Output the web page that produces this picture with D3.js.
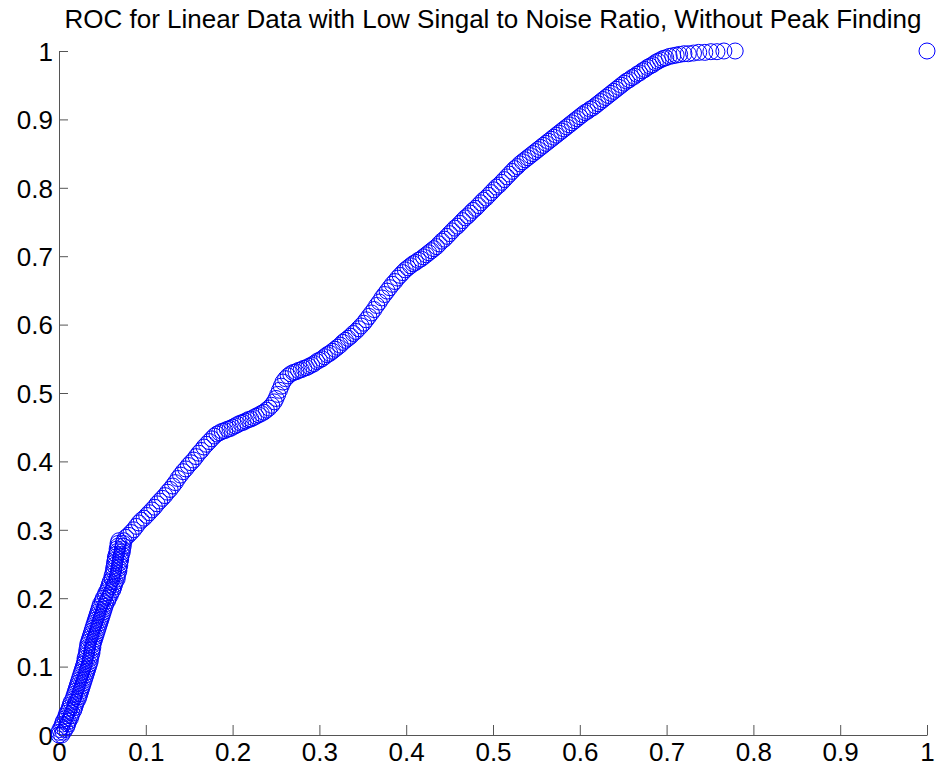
<!DOCTYPE html>
<html>
<head>
<meta charset="utf-8">
<script src="https://cdn.jsdelivr.net/npm/d3@7"></script>
<style>
  html, body { margin: 0; padding: 0; background: #fff; }
  svg { display: block; }
  text { font-family: "Liberation Sans", Arial, sans-serif; fill: #000; }
</style>
</head>
<body>
<svg id="chart" width="937" height="770"></svg>
<script>
const titleText = "ROC for Linear Data with Low Singal to Noise Ratio, Without Peak Finding";
const xTicks = [0, 0.1, 0.2, 0.3, 0.4, 0.5, 0.6, 0.7, 0.8, 0.9, 1];
const yTicks = [0, 0.1, 0.2, 0.3, 0.4, 0.5, 0.6, 0.7, 0.8, 0.9, 1];

// False positive rate (x) values
const fpr = [
  0,0.003, 0,0.005, 0.001,0.007, 0.003,0.009, 0.004,0.010, 0.005,0.011, 0.007,0.013, 0.008,0.014, 0.009,0.015, 0.011,0.017,
  0.012,0.018, 0.013,0.019, 0.014,0.020, 0.016,0.022, 0.017,0.023, 0.018,0.024, 0.019,0.025, 0.020,0.026, 0.021,0.027, 0.022,0.028,
  0.023,0.029, 0.024,0.030, 0.025,0.031, 0.026,0.032, 0.027,0.033, 0.028,0.034, 0.029,0.035, 0.030,0.036, 0.030,0.036, 0.031,0.037,
  0.032,0.038, 0.032,0.038, 0.033,0.039, 0.033,0.039, 0.034,0.040, 0.035,0.041, 0.036,0.042, 0.037,0.043, 0.038,0.044, 0.039,0.045,
  0.040,0.046, 0.041,0.047, 0.042,0.048, 0.043,0.049, 0.044,0.050, 0.045,0.051, 0.046,0.052, 0.047,0.053, 0.048,0.054, 0.050,0.056,
  0.051,0.057, 0.053,0.059, 0.054,0.060, 0.056,0.062, 0.057,0.063, 0.058,0.064, 0.059,0.065, 0.061,0.067, 0.061,0.067, 0.062,0.068,
  0.063,0.069, 0.063,0.069, 0.064,0.070, 0.064,0.070, 0.065,0.071, 0.065,0.071, 0.066,0.072, 0.067,0.073, 0.067,0.073, 0.068,0.074,
  0.068,0.074, 0.069,0.075, 0.077,
  0.080,0.083,0.086,0.089,0.092,0.095,0.098,0.101,0.104,0.107,0.110,0.113,0.116,0.119,0.122,0.125,0.128,0.131,0.134,0.137,
  0.140,0.143,0.146,0.149,0.152,0.155,0.158,0.161,0.164,0.167,0.170,0.173,0.176,0.179,0.182,0.185,0.188,0.191,0.194,0.197,
  0.200,0.203,0.206,0.209,0.212,0.215,0.218,0.221,0.224,0.227,0.230,0.233,0.236,0.239,0.242,0.245,0.248,
  0.250,0.252,0.254,0.256,0.258,0.261,0.264,0.267,0.270,0.273,0.276,0.279,0.282,0.285,0.288,0.291,0.294,0.297,0.300,0.303,
  0.306,0.309,0.312,0.315,0.318,0.321,0.324,0.327,0.330,0.333,0.336,0.339,0.342,0.345,0.348,0.351,0.354,0.357,0.360,0.363,
  0.366,0.369,0.372,0.375,0.378,0.381,0.384,0.387,0.390,0.393,0.396,0.399,0.402,0.405,0.408,0.411,0.414,0.417,0.420,
  0.423,0.426,0.429,0.432,0.435,0.438,0.441,0.444,0.447,0.450,0.453,0.456,0.459,0.462,0.465,0.468,0.471,0.474,0.477,0.480,
  0.483,0.486,0.489,0.492,0.495,0.498,0.501,0.504,0.507,0.510,0.513,0.516,0.519,0.522,0.525,0.528,0.531,0.534,0.537,0.540,
  0.543,0.546,0.549,0.552,0.555,0.558,0.561,0.564,0.567,0.570,0.573,0.576,0.579,0.582,0.585,0.588,0.591,0.594,0.597,0.600,
  0.603,0.606,0.609,0.612,0.615,0.618,0.621,0.624,0.627,0.630,0.633,0.636,0.639,0.642,0.645,0.648,0.651,0.654,0.657,0.660,
  0.663,0.666,0.669,0.672,0.675,0.678,0.681,0.684,0.687,0.690,0.693,0.696,0.699,
  0.703,0.707,0.711,0.715,0.720,0.725,0.731,0.737,0.744,0.751,0.758,0.766,0.779,1.000
];

// True positive rate (y) values
const tpr = [
  0,0, 0.004,0.004, 0.008,0.008, 0.012,0.012, 0.016,0.016, 0.020,0.020, 0.024,0.024, 0.028,0.028, 0.032,0.032, 0.036,0.036,
  0.040,0.040, 0.044,0.044, 0.048,0.048, 0.052,0.052, 0.056,0.056, 0.060,0.060, 0.064,0.064, 0.068,0.068, 0.072,0.072, 0.076,0.076,
  0.080,0.080, 0.084,0.084, 0.088,0.088, 0.092,0.092, 0.096,0.096, 0.100,0.100, 0.104,0.104, 0.108,0.108, 0.112,0.112, 0.116,0.116,
  0.120,0.120, 0.124,0.124, 0.128,0.128, 0.132,0.132, 0.136,0.136, 0.140,0.140, 0.144,0.144, 0.148,0.148, 0.152,0.152, 0.156,0.156,
  0.160,0.160, 0.164,0.164, 0.168,0.168, 0.172,0.172, 0.176,0.176, 0.180,0.180, 0.184,0.184, 0.188,0.188, 0.192,0.192, 0.196,0.196,
  0.200,0.200, 0.204,0.204, 0.208,0.208, 0.212,0.212, 0.216,0.216, 0.220,0.220, 0.224,0.224, 0.228,0.228, 0.232,0.232, 0.236,0.236,
  0.240,0.240, 0.244,0.244, 0.248,0.248, 0.252,0.252, 0.256,0.256, 0.260,0.260, 0.264,0.264, 0.268,0.268, 0.272,0.272, 0.276,0.276,
  0.280,0.280, 0.284,0.284, 0.289,
  0.292,0.296,0.300,0.305,0.310,0.314,0.317,0.321,0.325,0.329,0.333,0.338,0.342,0.346,0.350,0.355,0.359,0.364,0.369,0.375,
  0.380,0.385,0.389,0.394,0.398,0.402,0.407,0.412,0.416,0.421,0.425,0.429,0.433,0.437,0.440,0.442,0.444,0.445,0.447,0.448,
  0.450,0.452,0.454,0.456,0.457,0.459,0.461,0.462,0.464,0.466,0.468,0.470,0.472,0.475,0.478,0.482,0.487,
  0.492,0.498,0.504,0.510,0.516,0.521,0.525,0.528,0.530,0.531,0.533,0.534,0.536,0.537,0.539,0.541,0.543,0.546,0.548,0.550,
  0.553,0.556,0.558,0.561,0.564,0.567,0.570,0.574,0.577,0.580,0.583,0.587,0.590,0.594,0.598,0.602,0.607,0.612,0.617,0.622,
  0.628,0.633,0.639,0.644,0.649,0.654,0.659,0.663,0.668,0.672,0.676,0.680,0.683,0.686,0.689,0.691,0.694,0.696,0.699,
  0.702,0.705,0.708,0.711,0.714,0.718,0.722,0.725,0.729,0.733,0.737,0.741,0.744,0.748,0.752,0.756,0.759,0.763,0.767,0.770,
  0.774,0.778,0.782,0.785,0.789,0.793,0.797,0.801,0.804,0.808,0.812,0.816,0.820,0.824,0.828,0.831,0.835,0.838,0.841,0.844,
  0.847,0.850,0.853,0.856,0.859,0.862,0.865,0.868,0.871,0.874,0.877,0.880,0.883,0.886,0.889,0.892,0.895,0.898,0.901,0.904,
  0.907,0.910,0.912,0.915,0.917,0.920,0.923,0.926,0.929,0.932,0.935,0.938,0.941,0.944,0.947,0.950,0.953,0.956,0.958,0.961,
  0.963,0.966,0.968,0.971,0.973,0.976,0.978,0.980,0.983,0.985,0.987,0.989,0.990,
  0.992,0.993,0.994,0.995,0.996,0.996,0.997,0.998,0.998,0.999,0.999,1.000,1.000,1.000
];

const points = fpr.map((v, i) => ({ x: v, y: tpr[i] }));

const svg = d3.select("#chart");
const plotLeft = 59, plotRight = 927, plotTop = 51, plotBottom = 735;

const xScale = d3.scaleLinear().domain([0, 1]).range([plotLeft, plotRight]);
const yScale = d3.scaleLinear().domain([0, 1]).range([plotBottom, plotTop]);

const axisColor = "#555";
const fontSize = 26;

// X axis
const gx = svg.append("g").attr("transform", `translate(0,${plotBottom})`)
  .call(d3.axisBottom(xScale).tickValues(xTicks).tickFormat(d3.format("~g"))
    .tickSizeInner(-10).tickSizeOuter(0).tickPadding(6));
gx.select(".domain").attr("stroke", axisColor);
gx.selectAll(".tick line").attr("stroke", axisColor);
gx.selectAll(".tick text")
  .attr("font-family", "Liberation Sans, Arial, sans-serif")
  .attr("font-size", fontSize).attr("fill", "#000").attr("dy", "0.71em")
  .attr("y", 8);

// Y axis
const gy = svg.append("g").attr("transform", `translate(${plotLeft},0)`)
  .call(d3.axisLeft(yScale).tickValues(yTicks).tickFormat(d3.format("~g"))
    .tickSizeInner(-9).tickSizeOuter(0).tickPadding(6));
gy.select(".domain").attr("stroke", axisColor);
gy.selectAll(".tick line").attr("stroke", axisColor);
gy.selectAll(".tick text")
  .attr("font-family", "Liberation Sans, Arial, sans-serif")
  .attr("font-size", fontSize).attr("fill", "#000")
  .attr("x", -6).attr("dy", "0.36em");

// Title
svg.append("text")
  .attr("x", (plotLeft + plotRight) / 2).attr("y", 28)
  .attr("text-anchor", "middle")
  .attr("font-size", fontSize)
  .text(titleText);

// Circles
svg.append("g").selectAll("circle").data(points).join("circle")
  .attr("cx", d => xScale(d.x)).attr("cy", d => yScale(d.y))
  .attr("r", 8)
  .attr("fill", "none")
  .attr("stroke", "#0000ff")
  .attr("stroke-width", 1);
</script>
</body>
</html>
